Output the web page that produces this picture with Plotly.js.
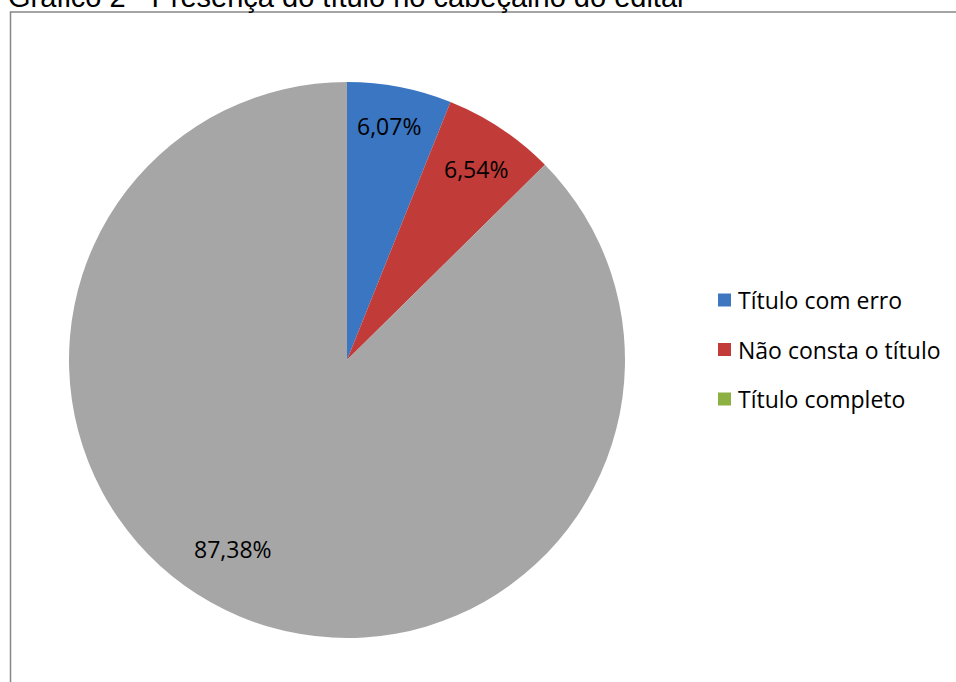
<!DOCTYPE html>
<html>
<head>
<meta charset="utf-8">
<script src="https://cdn.plot.ly/plotly-3.0.1.min.js"></script>
<style>html,body{margin:0;padding:0;background:#fff;overflow:hidden;}#chart{width:956px;height:682px;}</style>
</head>
<body>
<div id="chart"></div>
<script>
var chartTitle = "Gráfico 2 - Presença do título no cabeçalho do edital";
var categories = ["Título com erro", "Não consta o título", "Título completo"];
var values = [6.07, 6.54, 87.38];
var sliceColors = ["#3A76C2", "#C13B38", "#A6A6A6"];
var legendColors = ["#3E76C0", "#C23B38", "#8DB043"];

var W = 956, H = 682;
var cx = 347, cy = 360, r = 278;
// label centres in pixels (layout only)
var labelPos = [[389, 126], [476, 169], [233, 549]];

var trace = {
  type: "pie",
  labels: categories,
  values: values,
  sort: false,
  direction: "clockwise",
  rotation: 0,
  marker: {colors: sliceColors, line: {width: 0}},
  textinfo: "none",
  hoverinfo: "none",
  showlegend: false,
  domain: {x: [(cx - r) / W, (cx + r) / W], y: [(H - cy - r) / H, (H - cy + r) / H]}
};

function fmt(v) { return v.toFixed(2).replace(".", ",") + "%"; }

var shapes = [{
  type: "rect", xref: "paper", yref: "paper",
  x0: 10.5 / W, x1: 1.1, y0: -0.1, y1: 1 - 12 / H,
  line: {color: "#868686", width: 1.5}, fillcolor: "rgba(0,0,0,0)"
}];
var annotations = [{
  xref: "paper", yref: "paper", x: 6 / W, y: 1 + 3 / H, xanchor: "left", yanchor: "middle",
  text: chartTitle, showarrow: false,
  font: {family: "Liberation Sans, Arial, sans-serif", size: 29, color: "#000"}
}];
values.forEach(function (v, i) {
  annotations.push({
    xref: "paper", yref: "paper", x: labelPos[i][0] / W, y: 1 - labelPos[i][1] / H,
    xanchor: "center", yanchor: "middle", text: fmt(v), showarrow: false,
    font: {family: "Open Sans, sans-serif", size: 23, color: "#000"}
  });
});
var legX = 718, legY0 = 300, legStep = 49.5, box = 13;
categories.forEach(function (c, i) {
  var y = legY0 + i * legStep;
  shapes.push({
    type: "rect", xref: "paper", yref: "paper",
    x0: legX / W, x1: (legX + box) / W,
    y0: 1 - (y + box / 2) / H, y1: 1 - (y - box / 2) / H,
    line: {width: 0}, fillcolor: legendColors[i]
  });
  annotations.push({
    xref: "paper", yref: "paper", x: (legX + box + 5) / W, y: 1 - y / H,
    xanchor: "left", yanchor: "middle", text: c, showarrow: false,
    font: {family: "Open Sans, sans-serif", size: 23, color: "#000"}
  });
});

var layout = {
  width: W, height: H,
  margin: {l: 0, r: 0, t: 0, b: 0},
  paper_bgcolor: "#fff",
  shapes: shapes,
  annotations: annotations
};
Plotly.newPlot("chart", [trace], layout, {displayModeBar: false, staticPlot: true});
</script>
</body>
</html>
